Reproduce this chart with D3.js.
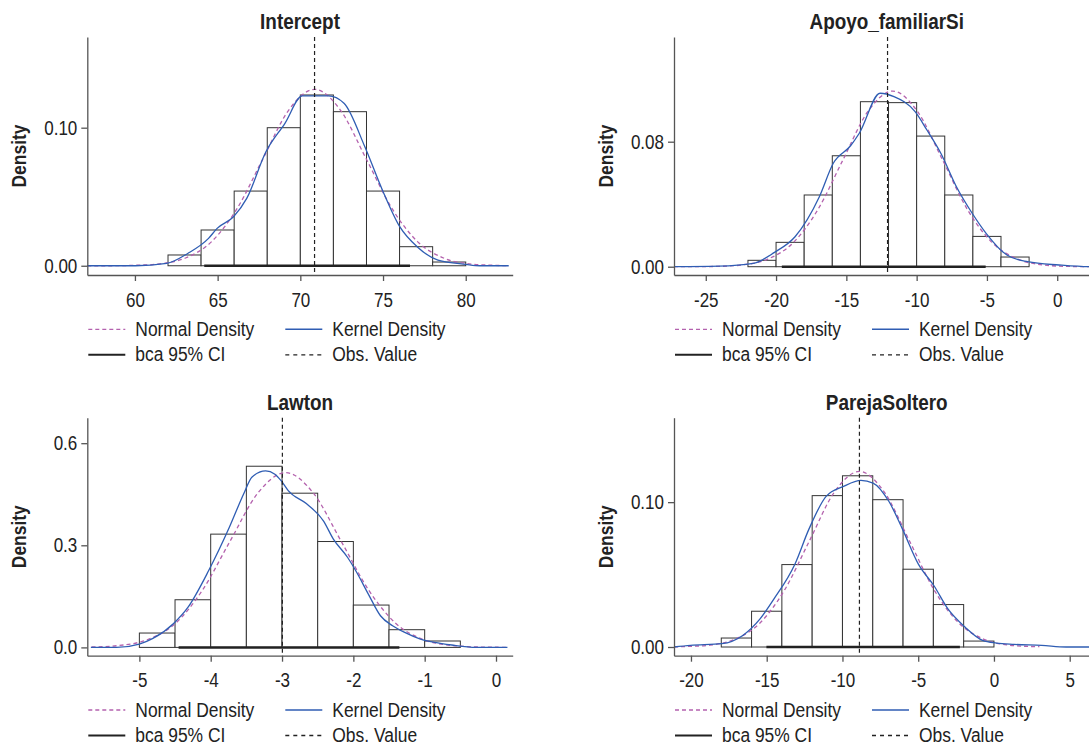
<!DOCTYPE html>
<html>
<head>
<meta charset="utf-8">
<script src="https://cdn.jsdelivr.net/npm/d3@7"></script>
<style>
  body { margin: 0; background: #fff; }
  text { font-family: "Liberation Sans", Arial, sans-serif; fill: #222; }
</style>
</head>
<body>
<script>
// panel titles
const titles = ["Intercept", "Apoyo_familiarSi", "Lawton", "ParejaSoltero"];

// histogram breaks + densities
const interceptBreaks = [62, 64, 66, 68, 70, 72, 74, 76, 78, 80];
const interceptHist = [0.0078, 0.0259, 0.0541, 0.1000, 0.1237, 0.1116, 0.0541, 0.0138, 0.0027];
const apoyoBreaks = [-22, -20, -18, -16, -14, -12, -10, -8, -6, -4, -2];
const apoyoHist = [0.0041, 0.0156, 0.0459, 0.0710, 0.1056, 0.1050, 0.0836, 0.0459, 0.0194, 0.0062];
const lawtonBreaks = [-5, -4.5, -4, -3.5, -3, -2.5, -2, -1.5, -1, -0.5];
const lawtonHist = [0.0422, 0.1400, 0.3328, 0.5323, 0.4531, 0.3111, 0.1244, 0.0520, 0.0188];
const parejaBreaks = [-18, -16, -14, -12, -10, -8, -6, -4, -2, 0];
const parejaHist = [0.0062, 0.0247, 0.0569, 0.1045, 0.1182, 0.1017, 0.0537, 0.0293, 0.0041];

// kernel density curves [x, density]
const interceptKernel = [[57.12,0],[60.03,0],[61.92,0.0017],[63.19,0.0089],[64.45,0.0198],[64.97,0.0271],[65.96,0.0355],
  [66.76,0.0488],[67.92,0.0826],[69.07,0.1032],[70.12,0.1230],[71.70,0.1230],[72.64,0.1177],[73.90,0.0862],[74.96,0.0549],
  [76.01,0.0283],[77.06,0.0138],[78.32,0.0041],[80.0,0.0010],[80.84,0],[82.6,0]];
const apoyoKernel = [[-27.25,0],[-24.09,0.0004],[-21.62,0.0022],[-20.11,0.0092],[-18.65,0.0192],[-16.92,0.0448],[-15.93,0.0662],
  [-14.70,0.0774],[-14.08,0.0854],[-12.60,0.1110],[-11.61,0.1088],[-10.11,0.0992],[-9.27,0.0875],[-8.28,0.0726],[-7.17,0.0512],
  [-6.05,0.0342],[-5.06,0.0214],[-3.58,0.0075],[-2.10,0.0032],[0.13,0.0011],[2.3,0],[3.0,0]];
const lawtonKernel = [[-5.68,0],[-5.32,0],[-5.00,0.0098],[-4.81,0.0264],[-4.52,0.0704],[-4.32,0.1174],[-4.03,0.2250],
  [-3.74,0.3521],[-3.54,0.4501],[-3.42,0.5009],[-3.23,0.5185],[-3.10,0.5088],[-3.01,0.4891],[-2.91,0.4598],[-2.66,0.4225],
  [-2.42,0.3718],[-2.28,0.3181],[-2.08,0.2641],[-1.96,0.2230],[-1.79,0.1567],[-1.62,0.0930],[-1.45,0.0637],[-1.28,0.0440],
  [-1.06,0.0246],[-0.86,0.0147],[-0.62,0.0070],[-0.28,0],[0.16,0]];
const parejaKernel = [[-21.12,0],[-20.03,0.0011],[-17.96,0.0023],[-16.58,0.0080],[-15.44,0.0194],[-14.52,0.0332],[-13.14,0.0572],
  [-12.22,0.0812],[-11.08,0.1040],[-9.93,0.1109],[-8.78,0.1150],[-7.98,0.1132],[-6.94,0.1006],[-6.03,0.0812],[-4.99,0.0572],
  [-3.96,0.0423],[-3.04,0.0263],[-1.90,0.0137],[-0.75,0.0046],[0.17,0.0027],[1.32,0.0018],[3.15,0.0011],[4.76,0],[6.9,0]];

// normal density curves [x, density]
const interceptNormal = [[57.12,0],[58.38,0],[59.94,0.0003],[61.50,0.0014],[63.06,0.0056],[64.62,0.0173],[66.18,0.0415],
  [67.74,0.0775],[69.30,0.1128],[70.86,0.1278],[72.42,0.1128],[73.98,0.0775],[75.54,0.0415],[77.10,0.0173],[78.66,0.0056],
  [80.22,0.0014],[81.78,0.0003],[82.6,0]];
const apoyoNormal = [[-27.26,0],[-25.9,0],[-24.13,0.0002],[-22.35,0.0012],[-20.58,0.0049],[-18.8,0.0152],[-17.03,0.0365],
  [-15.25,0.0682],[-13.48,0.0992],[-11.7,0.1124],[-9.93,0.0992],[-8.15,0.0682],[-6.38,0.0365],[-4.6,0.0152],[-2.83,0.0049],
  [-1.05,0.0012],[0.73,0.0002],[2.5,0],[3.0,0]];
const lawtonNormal = [[-5.67,0.0011],[-5.28,0.0057],[-4.89,0.0225],[-4.50,0.0695],[-4.12,0.1667],[-3.73,0.3114],[-3.34,0.4532],
  [-2.95,0.5135],[-2.56,0.4532],[-2.17,0.3114],[-1.78,0.1667],[-1.40,0.0695],[-1.01,0.0225],[-0.62,0.0057],[-0.23,0.0011],[0.16,0.0002]];
const parejaNormal = [[-21.12,0.0001],[-20.4,0.0003],[-18.75,0.0013],[-17.11,0.0053],[-15.46,0.0164],[-13.82,0.0394],
  [-12.17,0.0735],[-10.53,0.1070],[-8.88,0.1212],[-7.24,0.1070],[-5.59,0.0735],[-3.95,0.0394],[-2.30,0.0164],[-0.66,0.0053],
  [0.99,0.0013],[2.64,0.0003],[3.0,0.0002]];

// observed values and bca 95% CI
const obsValues = [70.86, -12.07, -2.995, -8.88];
const ciLow = [64.19, -19.59, -4.45, -15.02];
const ciHigh = [76.63, -5.09, -1.355, -2.25];

// axis limits and ticks
const xLimits = [[57.12, 82.84], [-27.26, 3.0], [-5.73, 0.234], [-21.12, 6.96]];
const yLimits = [[-0.0067, 0.1657], [-0.0053, 0.1470], [-0.0244, 0.6749], [-0.006, 0.1583]];
const xTicks = [[60, 65, 70, 75, 80], [-25, -20, -15, -10, -5, 0], [-5, -4, -3, -2, -1, 0], [-20, -15, -10, -5, 0, 5]];
const yTicks = [[0, 0.10], [0, 0.08], [0, 0.3, 0.6], [0, 0.10]];
const yTickLabels = [["0.00", "0.10"], ["0.00", "0.08"], ["0.0", "0.3", "0.6"], ["0.00", "0.10"]];

const legendLabels = ["Normal Density", "Kernel Density", "bca 95% CI", "Obs. Value"];

const normalColor = "#b462ae", kernelColor = "#2f5db3", inkColor = "#222";
const narrow = 0.83;  // squeeze text horizontally, reference uses a condensed face

const panels = titles.map((t, i) => ({
  title: t,
  breaks: [interceptBreaks, apoyoBreaks, lawtonBreaks, parejaBreaks][i],
  hist: [interceptHist, apoyoHist, lawtonHist, parejaHist][i],
  kernel: [interceptKernel, apoyoKernel, lawtonKernel, parejaKernel][i],
  normal: [interceptNormal, apoyoNormal, lawtonNormal, parejaNormal][i],
  obs: obsValues[i], lo: ciLow[i], hi: ciHigh[i],
  xlim: xLimits[i], ylim: yLimits[i],
  xt: xTicks[i], yt: yTicks[i], ytl: yTickLabels[i]
}));

const svg = d3.select("body").append("svg")
  .attr("width", 1089).attr("height", 746)
  .style("display", "block");

const plotLeft = [87.3, 674, 87.3, 674];
const plotTop = [37, 37, 417.7, 417.7];
const plotW = 425.4, plotH = 238;

// text placed at (x,y) but squeezed horizontally
function label(parent, x, y, str, size, opts) {
  opts = opts || {};
  const t = parent.append("g")
    .attr("transform", `translate(${x},${y}) ${opts.rotate ? "rotate(-90)" : ""} scale(${opts.sx || narrow},1)`)
    .append("text")
    .attr("font-size", size)
    .attr("text-anchor", opts.anchor || "start")
    .text(str);
  if (opts.bold) t.attr("font-weight", "bold");
  return t;
}

panels.forEach((p, i) => {
  const g = svg.append("g").attr("transform", `translate(${plotLeft[i]},${plotTop[i]})`);

  const x = d3.scaleLinear().domain(p.xlim).range([0, plotW]);
  const y = d3.scaleLinear().domain(p.ylim).range([plotH, 0]);

  // histogram
  const bins = p.hist.map((d, k) => ({x0: p.breaks[k], x1: p.breaks[k + 1], d: d}));
  g.selectAll("rect.bar").data(bins).enter().append("rect")
    .attr("class", "bar")
    .attr("x", d => x(d.x0))
    .attr("width", d => x(d.x1) - x(d.x0))
    .attr("y", d => y(d.d))
    .attr("height", d => y(0) - y(d.d))
    .attr("fill", "#fff")
    .attr("stroke", "#333")
    .attr("stroke-width", 1);

  const line = d3.line().x(d => x(d[0])).y(d => y(d[1])).curve(d3.curveMonotoneX);

  g.append("path").datum(p.normal)
    .attr("d", line)
    .attr("fill", "none")
    .attr("stroke", normalColor)
    .attr("stroke-width", 1.3)
    .attr("stroke-dasharray", "4,3");

  g.append("path").datum(p.kernel)
    .attr("d", line)
    .attr("fill", "none")
    .attr("stroke", kernelColor)
    .attr("stroke-width", 1.3);

  // CI segment
  g.append("line")
    .attr("x1", x(p.lo)).attr("x2", x(p.hi))
    .attr("y1", y(0)).attr("y2", y(0))
    .attr("stroke", inkColor).attr("stroke-width", 2.5);

  // observed value
  g.append("line")
    .attr("x1", x(p.obs)).attr("x2", x(p.obs))
    .attr("y1", 0).attr("y2", plotH)
    .attr("stroke", inkColor).attr("stroke-width", 1.2)
    .attr("stroke-dasharray", "4,3");

  // axes
  const xa = g.append("g").attr("transform", `translate(0,${plotH})`)
    .call(d3.axisBottom(x).tickValues(p.xt).tickSize(6).tickSizeOuter(0).tickPadding(11).tickFormat(d3.format("d")));
  const ya = g.append("g")
    .call(d3.axisLeft(y).tickValues(p.yt).tickSize(6).tickSizeOuter(0).tickPadding(4)
      .tickFormat((d, k) => p.ytl[k]));
  [xa, ya].forEach(a => {
    a.selectAll("path, line").attr("stroke", "#555").attr("stroke-width", 1.3);
    a.selectAll("text").attr("font-size", 20.5).attr("font-family", null).style("fill", "#222")
      .attr("transform", `scale(${narrow},1)`);
  });
  xa.selectAll("text").text(d => d < 0 ? "-" + Math.abs(d) : d);
  ya.selectAll("text").attr("x", -10 / narrow);

  // title
  label(g, plotW / 2, -8, p.title, 22, {anchor: "middle", bold: true, sx: 0.86});

  label(g, -61, plotH / 2, "Density", 21, {anchor: "middle", bold: true, rotate: true});

  // legend
  const leg = g.append("g").attr("transform", `translate(0,${plotH})`);
  const items = [
    {c: 0, r: 0, stroke: normalColor, dash: "4,3", w: 1.3},
    {c: 1, r: 0, stroke: kernelColor, dash: null, w: 1.5},
    {c: 0, r: 1, stroke: inkColor, dash: null, w: 2},
    {c: 1, r: 1, stroke: inkColor, dash: "4,4", w: 1.3}
  ];
  items.forEach((it, k) => {
    const lx = it.c === 0 ? 1 : 198;
    const ly = it.r === 0 ? 54.3 : 79.8;
    leg.append("line")
      .attr("x1", lx).attr("x2", lx + 37)
      .attr("y1", ly).attr("y2", ly)
      .attr("stroke", it.stroke).attr("stroke-width", it.w)
      .attr("stroke-dasharray", it.dash);
    label(leg, lx + 47, ly + 6.5, legendLabels[k], 21);
  });
});
</script>
</body>
</html>
